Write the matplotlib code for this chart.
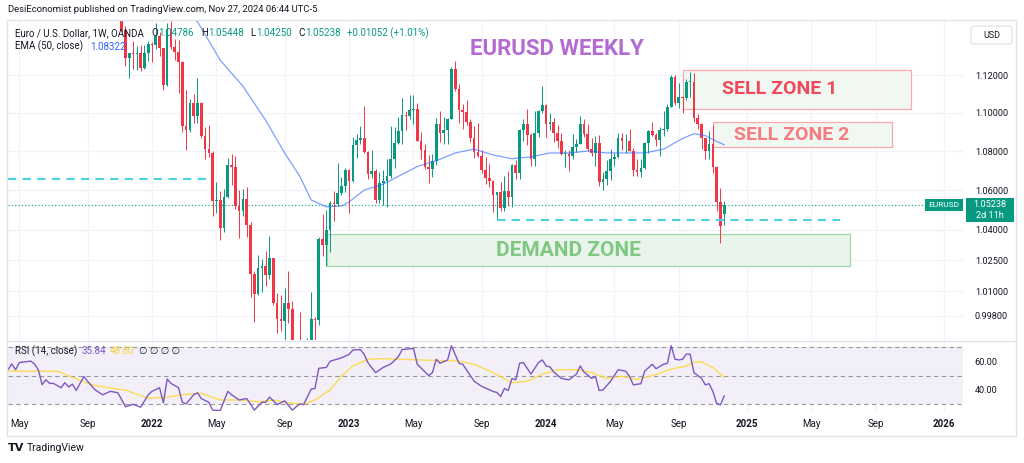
import matplotlib
matplotlib.use('Agg')
import numpy as np
import pandas as pd
import matplotlib.pyplot as plt
from matplotlib.patches import Rectangle, FancyBboxPatch
from matplotlib.lines import Line2D

plt.rcParams['font.family'] = ['Roboto', 'DejaVu Sans']

# weekly EURUSD candles (OANDA), first bar = week of 2021-11-01
first_bar = '2021-11-01'
opens = [
    1.1560, 1.1567, 1.1445, 1.1290, 1.1318, 1.1316, 1.1317, 1.1240, 1.1320,
    1.1370, 1.1360, 1.1411, 1.1345, 1.1146, 1.1450, 1.1350, 1.1322, 1.1270, 1.0930,
    1.0910, 1.1050, 1.0985, 1.1050, 1.0880, 1.0810, 1.0790, 1.0545, 1.0550, 1.0410,
    1.0563, 1.0730, 1.0720, 1.0520, 1.0495, 1.0555, 1.0425, 1.0185, 1.0085, 1.0213,
    1.0220, 1.0180, 1.0260, 1.0040, 0.9965, 0.9955, 1.0040, 1.0015, 0.9690, 0.9800,
    0.9740, 0.9720, 0.9860, 0.9965, 0.9960, 1.0355, 1.0325, 1.0400, 1.0535, 1.0530,
    1.0585, 1.0620,
    1.0700, 1.0645, 1.0830, 1.0855, 1.0870, 1.0795, 1.0680, 1.0695, 1.0550, 1.0635,
    1.0645, 1.0670, 1.0760, 1.0840, 1.0905, 1.0990, 1.0985, 1.1015, 1.1020, 1.0850,
    1.0805, 1.0720, 1.0710, 1.0750, 1.0940, 1.0895, 1.0910, 1.0965, 1.1230, 1.1125,
    1.1015, 1.1005, 1.0950, 1.0870, 1.0795, 1.0775, 1.0700, 1.0660, 1.0645, 1.0575,
    1.0590, 1.0510, 1.0595, 1.0565, 1.0730, 1.0685, 1.0910, 1.0940, 1.0885, 1.0760,
    1.0895, 1.1010,
    1.1040, 1.0940, 1.0950, 1.0895, 1.0850, 1.0785, 1.0785, 1.0775, 1.0820, 1.0835,
    1.0940, 1.0890, 1.0810, 1.0790, 1.0840, 1.0640, 1.0655, 1.0695, 1.0760, 1.0770,
    1.0870, 1.0850, 1.0850, 1.0800, 1.0700, 1.0690, 1.0715, 1.0840, 1.0905, 1.0885,
    1.0855, 1.0910, 1.0915, 1.1030, 1.1190, 1.1050, 1.1085, 1.1075, 1.1165, 1.1165,
    1.0970, 1.0940, 1.0865, 1.0800, 1.0835, 1.0720, 1.0540, 1.04786,
]
highs = [
    1.1617, 1.1610, 1.1464, 1.1320, 1.1383, 1.1355, 1.1360, 1.1360, 1.1386,
    1.1376, 1.1482, 1.1434, 1.1346, 1.1484, 1.1495, 1.1395, 1.1391, 1.1275, 1.1120,
    1.1070, 1.1100, 1.1185, 1.1055, 1.0925, 1.0936, 1.0800, 1.0641, 1.0595, 1.0608,
    1.0765, 1.0787, 1.0773, 1.0601, 1.0606, 1.0615, 1.0440, 1.0195, 1.0278, 1.0258,
    1.0294, 1.0368, 1.0260, 1.0090, 1.0080, 1.0113, 1.0198, 1.0050, 0.9853, 0.9999,
    0.9810, 0.9875, 1.0094, 0.9975, 1.0365, 1.0480, 1.0497, 1.0545, 1.0595, 1.0737,
    1.0665, 1.0714,
    1.0710, 1.0875, 1.0888, 1.0930, 1.1033, 1.0800, 1.0805, 1.0705, 1.0690, 1.0700,
    1.0760, 1.0930, 1.0925, 1.0975, 1.1075, 1.1010, 1.1095, 1.1095, 1.1050, 1.0900,
    1.0835, 1.0780, 1.0787, 1.0970, 1.1010, 1.0975, 1.0970, 1.1245, 1.1276, 1.1150,
    1.1045, 1.1065, 1.0965, 1.0930, 1.0945, 1.0805, 1.0770, 1.0735, 1.0650, 1.0590,
    1.0640, 1.0670, 1.0695, 1.0735, 1.0755, 1.0915, 1.0965, 1.1017, 1.0895, 1.1010,
    1.1015, 1.1140,
    1.1045, 1.1000, 1.0970, 1.0935, 1.0895, 1.0805, 1.0805, 1.0890, 1.0860, 1.0980,
    1.0965, 1.0940, 1.0865, 1.0880, 1.0885, 1.0690, 1.0755, 1.0810, 1.0790, 1.0895,
    1.0895, 1.0890, 1.0915, 1.0815, 1.0760, 1.0760, 1.0845, 1.0910, 1.0950, 1.0895,
    1.0925, 1.1010, 1.1045, 1.1200, 1.1200, 1.1155, 1.1090, 1.1180, 1.1215, 1.1210,
    1.0995, 1.0945, 1.0870, 1.0905, 1.0935, 1.0725, 1.0610, 1.05448,
]
lows = [
    1.1513, 1.1432, 1.1250, 1.1186, 1.1235, 1.1227, 1.1222, 1.1235, 1.1275,
    1.1272, 1.1340, 1.1300, 1.1121, 1.1140, 1.1340, 1.1280, 1.1106, 1.0900, 1.0806,
    1.0900, 1.0945, 1.0945, 1.0865, 1.0757, 1.0770, 1.0471, 1.0482, 1.0350, 1.0388,
    1.0560, 1.0627, 1.0505, 1.0359, 1.0470, 1.0365, 1.0072, 0.9952, 1.0080, 1.0097,
    1.0123, 1.0160, 1.0034, 0.9900, 0.9910, 0.9865, 0.9945, 0.9670, 0.9536, 0.9740,
    0.9632, 0.9705, 0.9860, 0.9730, 0.9935, 1.0270, 1.0222, 1.0290, 1.0443, 1.0520,
    1.0575, 1.0590,
    1.0483, 1.0640, 1.0766, 1.0835, 1.0790, 1.0655, 1.0660, 1.0535, 1.0535, 1.0525,
    1.0515, 1.0660, 1.0715, 1.0835, 1.0835, 1.0910, 1.0965, 1.0940, 1.0850, 1.0760,
    1.0710, 1.0635, 1.0665, 1.0730, 1.0845, 1.0835, 1.0835, 1.0965, 1.1115, 1.0945,
    1.0915, 1.0935, 1.0845, 1.0765, 1.0770, 1.0685, 1.0630, 1.0615, 1.0490, 1.0448,
    1.0495, 1.0495, 1.0520, 1.0515, 1.0655, 1.0655, 1.0850, 1.0830, 1.0725, 1.0725,
    1.0875, 1.1000,
    1.0875, 1.0910, 1.0845, 1.0815, 1.0780, 1.0720, 1.0695, 1.0760, 1.0795, 1.0835,
    1.0875, 1.0800, 1.0775, 1.0725, 1.0620, 1.0600, 1.0625, 1.0650, 1.0725, 1.0765,
    1.0805, 1.0790, 1.0800, 1.0670, 1.0670, 1.0665, 1.0710, 1.0790, 1.0880, 1.0825,
    1.0775, 1.0880, 1.0905, 1.1030, 1.1040, 1.1025, 1.1000, 1.1065, 1.1085, 1.0950,
    1.0915, 1.0810, 1.0760, 1.0760, 1.0685, 1.0495, 1.0333, 1.04250,
]
closes = [
    1.1567, 1.1445, 1.1290, 1.1318, 1.1316, 1.1317, 1.1240, 1.1320, 1.1370,
    1.1360, 1.1411, 1.1345, 1.1146, 1.1450, 1.1350, 1.1322, 1.1270, 1.0930, 1.0910,
    1.1050, 1.0985, 1.1050, 1.0880, 1.0810, 1.0790, 1.0545, 1.0550, 1.0410, 1.0563,
    1.0730, 1.0720, 1.0520, 1.0495, 1.0555, 1.0425, 1.0185, 1.0085, 1.0213, 1.0220,
    1.0180, 1.0260, 1.0040, 0.9965, 0.9955, 1.0040, 1.0015, 0.9690, 0.9800, 0.9740,
    0.9720, 0.9860, 0.9965, 0.9960, 1.0355, 1.0325, 1.0400, 1.0535, 1.0530, 1.0585,
    1.0620, 1.0700,
    1.0645, 1.0830, 1.0855, 1.0870, 1.0795, 1.0680, 1.0695, 1.0550, 1.0635, 1.0645,
    1.0670, 1.0760, 1.0840, 1.0905, 1.0990, 1.0985, 1.1015, 1.1020, 1.0850, 1.0805,
    1.0720, 1.0710, 1.0750, 1.0940, 1.0895, 1.0910, 1.0965, 1.1230, 1.1125, 1.1015,
    1.1005, 1.0950, 1.0870, 1.0795, 1.0775, 1.0700, 1.0660, 1.0645, 1.0575, 1.0590,
    1.0510, 1.0595, 1.0565, 1.0730, 1.0685, 1.0910, 1.0940, 1.0885, 1.0760, 1.0895,
    1.1010, 1.1040,
    1.0940, 1.0950, 1.0895, 1.0850, 1.0785, 1.0785, 1.0775, 1.0820, 1.0835, 1.0940,
    1.0890, 1.0810, 1.0790, 1.0840, 1.0640, 1.0655, 1.0695, 1.0760, 1.0770, 1.0870,
    1.0850, 1.0850, 1.0800, 1.0700, 1.0690, 1.0715, 1.0840, 1.0905, 1.0885, 1.0855,
    1.0910, 1.0915, 1.1030, 1.1190, 1.1050, 1.1085, 1.1075, 1.1165, 1.1165, 1.0970,
    1.0940, 1.0865, 1.0800, 1.0835, 1.0720, 1.0540, 1.0419, 1.05238,
]

# indicator readings, x in weeks from the bar of 2022-01-03
ema_week = [-10, -2, 5, 12, 18, 24, 30, 35, 39, 42, 46, 50, 52, 56, 61, 66, 70, 75,
            80, 85, 90, 95, 100, 105, 110, 115, 120, 125, 130, 135, 140, 143, 146, 149, 151]
ema_vals = [1.172, 1.166, 1.158, 1.149, 1.128, 1.114, 1.096, 1.079, 1.067, 1.055, 1.0515,
            1.052, 1.054, 1.060, 1.063, 1.068, 1.072, 1.075, 1.079, 1.081, 1.078, 1.076,
            1.077, 1.079, 1.079, 1.080, 1.079, 1.079, 1.079, 1.081, 1.0865, 1.089, 1.088,
            1.085, 1.08322]

rsi_week = [-38, -37, -36, -35, -32, -31, -30, -29, -28, -27, -26, -24, -23, -22, -21, -20,
            -18, -17, -15, -13, -11, -9, -7, -5, -3, -1, 0, 2, 3, 4, 5, 7, 8, 9, 11, 12, 13,
            15, 16, 18, 20, 21, 23, 25, 27, 29, 30, 31, 33, 35, 37, 39, 40, 42, 43, 44, 46,
            47, 50, 52, 53, 55, 56, 57, 59, 61, 63, 65, 66, 69, 70, 73, 74, 75, 76, 78, 79,
            81, 82, 85, 87, 90, 91, 92, 93, 94, 95, 96, 97, 98, 100, 102, 103, 104, 105, 106,
            108, 110, 112, 113, 114, 116, 117, 118, 119, 121, 123, 125, 126, 127, 129, 130,
            132, 133, 135, 136, 137, 138, 139, 140, 141, 142, 143, 145, 146, 147, 148, 149,
            150, 151]
rsi_vals = [54, 58, 54, 59, 60, 58, 54, 43.6, 47, 44.5, 44.5, 41.5, 45, 42, 44, 39.6,
            49.3, 46, 40, 36.6, 39, 38, 28.3, 30, 28, 36.6, 39, 41.5, 31, 47.6, 44.5, 41.5,
            31.4, 30.3, 36.6, 38, 34, 31.4, 26, 25.6, 39, 36.6, 33, 34, 26, 31.4, 31.4, 35,
            29.8, 32.4, 26, 30.3, 29.8, 40.6, 41, 55, 55.6, 59.9, 62.3, 64.6, 67.7, 68, 64.6,
            58.8, 52, 55.6, 58, 63, 68, 68.8, 57.8, 50, 52, 61.3, 58.5, 60.8, 70.7, 58.5,
            57.8, 46, 42.5, 38.9, 38.2, 35.4, 41, 39.6, 48, 47, 58.5, 59, 51, 59, 60.8, 56.6,
            56, 52.4, 48, 47, 51, 56.6, 52.4, 48, 49.4, 39.6, 40, 46, 54, 53, 49.4, 43.5,
            44.3, 53, 57.8, 54.7, 57.8, 58.5, 70.7, 61.3, 60.8, 61.3, 64.8, 64.8, 52, 48,
            43.5, 44.3, 38.9, 30.7, 29.6, 35.84]

rsi_ma_week = [-38, -27, -25, -20, -16, -11, -7, -1, 4, 8, 13, 18, 23, 28, 32, 36, 40, 43,
               47, 50, 53, 57, 61, 65, 71, 81, 85, 90, 95, 99, 103, 107, 112, 116, 120,
               124, 128, 133, 137, 141, 143, 145, 148, 151]
rsi_ma_vals = [53, 53, 53, 47.7, 43.6, 41.3, 39.8, 34.2, 35, 36.6, 37.7, 33, 33, 31.8, 33,
               31, 30, 33, 40, 49.5, 56.6, 61.3, 61.7, 61.3, 60.8, 60, 57.8, 52, 45, 46,
               51, 54, 54, 52, 48, 49.4, 47.2, 50.7, 54.5, 56.6, 59.4, 59.4, 55.4, 48.8]

price_ticks = [0.998, 1.01, 1.025, 1.04, 1.06, 1.08, 1.10, 1.12]
last_price = 1.05238

# drawn zones: (first week, last week, low price, high price)
sell_zone_1 = (140.1, 200.3, 1.1019, 1.1227)
sell_zone_2 = (148.0, 195.3, 1.0821, 1.0951)
demand_zone = (46.2, 184.2, 1.0222, 1.0380)
# zone captions: (text, week, price)
captions = [('SELL ZONE 1', 165.7, 1.1128), ('SELL ZONE 2', 168.9, 1.0885),
            ('DEMAND ZONE', 109.8, 1.0300)]
# dashed levels: (price, first week, last week)
level_1 = (1.0656, -38, 15.3)
level_2 = (1.0449, 91.0, 181.5)

GREEN = '#089981'
RED = '#f23645'
TEXT = '#131722'
GRID = '#f0f3fa'
BORDER = '#e0e3eb'

W, H = 1024, 463
fig = plt.figure(figsize=(W / 100, H / 100), dpi=100)


def fx(px):
    return px / W


def fy(py):
    return 1 - py / H


ax = fig.add_axes([fx(8), fy(340), (963 - 8) / W, (340 - 20) / H])
rax = fig.add_axes([fx(8), fy(411), (963 - 8) / W, (411 - 341) / H], sharex=ax)

base = pd.Timestamp('2022-01-03')
dates = pd.date_range(first_bar, periods=len(closes), freq='W-MON')
x = np.asarray((dates - base).days / 7.0)
o = np.array(opens)
h = np.array(highs)
l = np.array(lows)
c = np.array(closes)

# month ticks at the first weekly bar of each month
all_bars = pd.date_range('2021-03-29', '2026-03-30', freq='W-MON')
tick_pos, tick_lab, tick_year = [], [], []
for m in pd.date_range('2021-05-01', '2026-01-01', freq='4MS'):
    first = all_bars[all_bars >= m][0]
    tick_pos.append((first - base).days / 7.0)
    tick_year.append(m.month == 1)
    tick_lab.append(str(m.year) if m.month == 1 else m.strftime('%b'))

for a in (ax, rax):
    for s in a.spines.values():
        s.set_visible(False)
    a.set_xticks(tick_pos)
    a.grid(axis='x', color=GRID, lw=0.9)
    a.set_axisbelow(True)

ax.set_xlim(-38, 214)

# candles
col = np.where(c >= o, GREEN, RED)
ax.vlines(x, l, h, colors=col, lw=0.7, zorder=3)
ax.bar(x, np.maximum(np.abs(c - o), 0.0004), bottom=np.minimum(o, c), width=0.7,
       color=col, lw=0, zorder=3)

ax.set_yscale('log')
ax.set_ylim(0.9866, 1.1499)
ax.yaxis.set_minor_locator(plt.NullLocator())
ax.yaxis.set_minor_formatter(plt.NullFormatter())
ax.set_yticks(price_ticks)
ax.set_yticklabels([f'{p:.5f}' for p in price_ticks])
ax.yaxis.tick_right()
ax.tick_params(axis='y', length=0, pad=8.5, labelsize=6.6, labelcolor=TEXT)
ax.tick_params(axis='x', length=0, labelbottom=False)
ax.grid(axis='y', color=GRID, lw=0.9)

# EMA 50
ax.plot(ema_week, ema_vals, color='#2962ff', lw=0.9, alpha=0.6, zorder=4)

# zones
for (x0, x1, p0, p1), edge, face in [
        (sell_zone_1, '#f8a9ae', '#f1f8f2'),
        (sell_zone_2, '#f8a9ae', '#f1f8f2'),
        (demand_zone, '#a5d6a7', '#e9f5ea')]:
    ax.add_patch(Rectangle((x0, p0), x1 - x0, p1 - p0, facecolor=face, edgecolor=edge,
                           lw=0.9, zorder=2))

for p, x0, x1 in (level_1, level_2):
    ax.hlines(p, x0, x1, colors='#4dd0e1', linestyles=(0, (4, 3)), lw=1.5, zorder=5)

ax.axhline(last_price, color=GREEN, ls=(0, (1, 2)), lw=0.8, zorder=1)

for (txt, wk, pr), colr, size in zip(captions, ['#f2495a', '#f77c80', '#81c784'],
                                      [14, 14, 15]):
    ax.text(wk, pr, txt, color=colr, fontsize=size, fontweight='bold', ha='center',
            va='center', zorder=6)

# RSI pane
rax.set_ylim(25.35, 73.96)
rax.axhspan(30, 70, color='#7e57c2', alpha=0.09, lw=0, zorder=0)
for lv in (70, 50, 30):
    rax.axhline(lv, color='#9598a1', ls=(0, (4, 3)), lw=0.8, zorder=1)
rax.plot(rsi_ma_week, rsi_ma_vals, color='#fdd835', lw=1.0, alpha=0.85, zorder=3)
rax.plot(rsi_week, rsi_vals, color='#7e57c2', lw=1.0, zorder=4)
rax.set_yticks([40, 60])
rax.set_yticklabels(['40.00', '60.00'])
rax.yaxis.tick_right()
rax.tick_params(axis='y', length=0, pad=8.5, labelsize=6.6, labelcolor=TEXT)
rax.set_xticklabels(tick_lab)
rax.tick_params(axis='x', length=0, pad=6, labelsize=7, labelcolor=TEXT)
for lab, yr in zip(rax.get_xticklabels(), tick_year):
    lab.set_fontweight('bold' if yr else 'normal')
rax.set_xlim(-38, 214)

# frame and pane separator
fig.add_artist(Rectangle((fx(7), fy(436)), (1016 - 7) / W, (436 - 20) / H,
                         transform=fig.transFigure, fill=False, edgecolor=BORDER, lw=1))
fig.add_artist(Line2D([fx(7), fx(1016)], [fy(340.5), fy(340.5)], color=BORDER, lw=1))

renderer = fig.canvas.get_renderer()


def seq_text(px, py, pieces, size):
    # pieces: (text, colour, extra gap in px after it)
    for s, colr, gap in pieces:
        t = fig.text(fx(px), fy(py), s, color=colr, fontsize=size, va='center', ha='left')
        px += t.get_window_extent(renderer=renderer).width + gap


fig.text(fx(8), fy(10), 'DesiEconomist published on TradingView.com, Nov 27, 2024 06:44 UTC-5',
         fontsize=6.8, color=TEXT, va='center')
seq_text(15, 33, [('Euro / U.S. Dollar, 1W, OANDA', TEXT, 8), ('O', TEXT, 0),
                  ('1.04786', GREEN, 7), ('H', TEXT, 0), ('1.05448', GREEN, 7),
                  ('L', TEXT, 0), ('1.04250', GREEN, 7), ('C', TEXT, 0),
                  ('1.05238', GREEN, 7), ('+0.01052 (+1.01%)', GREEN, 0)], 7)
seq_text(15, 46.5, [('EMA (50, close)', TEXT, 7), ('1.08322', '#2962ff', 0)], 7)
seq_text(15, 351, [('RSI (14, close)', TEXT, 4), ('35.84', '#7e57c2', 4),
                   ('48.80', '#f5d33a', 5), ('\u2205 \u2205 \u2205 \u2205', TEXT, 0)], 7)

fig.text(fx(557), fy(49), 'EURUSD WEEKLY', fontsize=16, fontweight='bold', color='#b36bd1',
         ha='center', va='center')

# price scale decorations
fig.add_artist(FancyBboxPatch((fx(971), fy(44)), (1012 - 971) / W, (44 - 26) / H,
                              boxstyle='round,pad=0,rounding_size=0.004',
                              transform=fig.transFigure, facecolor='white',
                              edgecolor=BORDER, lw=0.9))
fig.text(fx(991.5), fy(35), 'USD', fontsize=6.5, color=TEXT, ha='center', va='center')

fig.add_artist(Rectangle((fx(925), fy(211)), 38 / W, 12 / H, transform=fig.transFigure,
                         facecolor=GREEN, edgecolor='none'))
fig.text(fx(944), fy(205), 'EURUSD', fontsize=6, color='white', ha='center', va='center')
fig.add_artist(Rectangle((fx(966), fy(222)), 48 / W, 24 / H, transform=fig.transFigure,
                         facecolor=GREEN, edgecolor='none'))
fig.text(fx(990), fy(204.5), '1.05238', fontsize=6.6, color='white', ha='center', va='center')
fig.text(fx(990), fy(215.5), '2d 11h', fontsize=6.6, color='white', ha='center', va='center')

# footer logo
fig.text(fx(8), fy(448), 'TV', fontsize=8, fontweight='heavy', color=TEXT, va='center',
         family='DejaVu Sans')
fig.text(fx(27), fy(448), 'TradingView', fontsize=7.5, color=TEXT, va='center')

fig.savefig('out.png', dpi=100, facecolor='white')
